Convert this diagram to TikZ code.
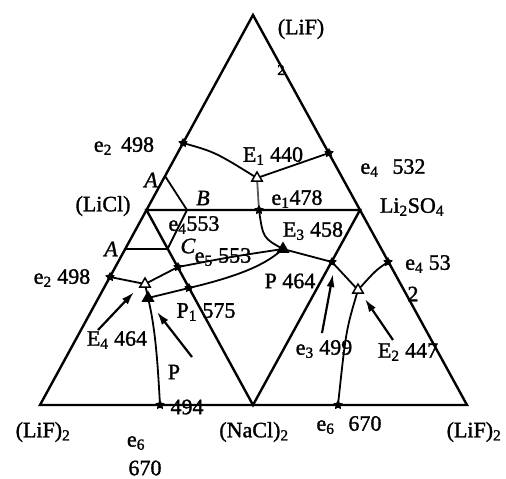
\documentclass[tikz,border=0pt]{standalone}
\usepackage{fontspec}
\setmainfont{Liberation Serif}[FakeBold=1.4]
\usetikzlibrary{arrows.meta,shapes.geometric}

\begin{document}
\begin{tikzpicture}[
  x=1pt, y=-1pt,
  side/.style={line width=2.4pt, line join=miter},
  bnd/.style={line width=1.8pt},
  arr/.style={-{Latex[length=13pt,width=8pt]}, line width=2.2pt},
  lbl/.style={font=\fontsize{22}{24}\selectfont, inner sep=0pt},
  pnt/.style={star, star points=5, star point ratio=1.8, fill, inner sep=0pt, minimum size=10pt},
  opn/.style={regular polygon, regular polygon sides=3, draw, line width=1.5pt,
              fill=white, inner sep=0pt, minimum size=12pt},
  shut/.style={opn, fill=black}
]
\useasboundingbox (0,0) rectangle (506,479);
% corners of the square
\coordinate (T)  at (253,15);
\coordinate (L)  at (40,405);
\coordinate (R)  at (467,405);
\coordinate (N)  at (253,405);
\coordinate (Cl) at (146.5,210);
\coordinate (S)  at (360,210);
\coordinate (Au) at (165,176);
\coordinate (B)  at (187,210);
\coordinate (C)  at (167.5,249);
\coordinate (Al) at (125,249);
% invariant points
\coordinate (e2u) at (183,143);
\coordinate (E1)  at (257,178);
\coordinate (e4u) at (329,153);
\coordinate (e1)  at (259,210);
\coordinate (E3)  at (283,249);
\coordinate (P)   at (332,262);
\coordinate (E2)  at (358,290);
\coordinate (e4l) at (388,262);
\coordinate (e6r) at (338,405);
\coordinate (e2l) at (110,277);
\coordinate (E4)  at (145,284);
\coordinate (e5)  at (178,267);
\coordinate (Pf)  at (148,298);
\coordinate (p1)  at (189,288);
\coordinate (e6l) at (160,405);

\draw[side] (T) -- (R) -- (L) -- cycle;
\draw[side] (Cl) -- (S) -- (N) -- cycle;
\draw[bnd] (Au) -- (B) -- (C) -- (Al);

\draw[bnd] (e2u) .. controls (215,152) .. (E1);
\draw[bnd] (E1) -- (e4u);
\draw[bnd, gray!70!black] (E1) -- (e1);
\draw[bnd] (e1) .. controls (263,238) .. (E3);
\draw[bnd] (e5) .. controls (230,257) .. (E3);
\draw[bnd] (e2l) .. controls (127,281) .. (E4);
\draw[bnd] (E4) -- (e5);
\draw[bnd] (E4) -- (Pf);
\draw[bnd] (Pf) -- (p1);
\draw[bnd] (p1) .. controls (248,274) and (268,262) .. (E3);
\draw[bnd] (Pf) .. controls (156,330) and (158,370) .. (e6l);
\draw[bnd] (E3) -- (P);
\draw[bnd] (P) -- (E2);
\draw[bnd] (E2) .. controls (376,270) .. (e4l);
\draw[bnd] (E2) .. controls (346,330) .. (e6r);

\foreach \p in {e2u,e4u,e1,P,e4l,e6r,e2l,e5,p1,e6l}
  \node[pnt] at (\p) {};
\node[opn]  (mE1) at (E1) {};
\node[opn]  (mE4) at (E4) {};
\node[opn]  (mE2) at (E2) {};
\node[shut] (mE3) at (E3) {};
\node[shut] (mPf) at (Pf) {};

% arrows to the points
\coordinate (tE4) at (98,330);
\coordinate (hE4) at (134,292);
\coordinate (tP)  at (192,357);
\coordinate (hP)  at (157,312);
\coordinate (te3) at (322,333);
\coordinate (he3) at (333,274);
\coordinate (tE2) at (393,340);
\coordinate (hE2) at (365,299);
\draw[arr] (tE4) -- (hE4);
\draw[arr] (tP) -- (hP);
\draw[arr] (te3) -- (he3);
\draw[arr] (tE2) -- (hE2);

\node[lbl] (lLiFt)  at (301,29)  {(LiF)};
\node[lbl, font=\fontsize{15}{17}\selectfont] (lLiFt2) at (281,70) {2};
\node[lbl] (le2u)   at (124,146) {e\textsubscript{2}\, 498};
\node[lbl] (lAu)    at (151,180) {\textit{A}};
\node[lbl] (lLiCl)  at (103,206) {(LiCl)};
\node[lbl] (lB)     at (203,198) {\textit{B}};
\node[lbl] (lE1)    at (273,156) {E\textsubscript{1} 440};
\node[lbl] (le4u)   at (393,168) {e\textsubscript{4}\hspace{14pt}532};
\node[lbl] (le1)    at (297,199) {e\textsubscript{1}478};
\node[lbl] (lS)     at (412,207) {Li\textsubscript{2}SO\textsubscript{4}};
\node[lbl] (le4m)   at (194,225) {e\textsubscript{4}553};
\node[lbl] (lC)     at (188,246) {\textit{C}};
\node[lbl] (le5)    at (223,257) {e\textsubscript{5} 553};
\node[lbl] (lAl)    at (111,249) {\textit{A}};
\node[lbl] (le2l)   at (62,278)  {e\textsubscript{2} 498};
\node[lbl] (lE3)    at (313,231) {E\textsubscript{3} 458};
\node[lbl] (lP)     at (290,281) {P 464};
\node[lbl] (le4l)   at (428,264) {e\textsubscript{4} 53};
\node[lbl] (le4l2)  at (413,294) {2};
\node[lbl] (lp1)    at (206,312) {P\textsubscript{1} 575};
\node[lbl] (lE4)    at (117,340) {E\textsubscript{4} 464};
\node[lbl] (lPf)    at (174,372) {P};
\node[lbl] (le6l)   at (187,407) {494};
\node[lbl] (lLiFl)  at (43,432)  {(LiF)\textsubscript{2}};
\node[lbl] (le6b)   at (136,443) {e\textsubscript{6}};
\node[lbl] (le6b2)  at (145,468) {670};
\node[lbl] (lNaCl)  at (254,432) {(NaCl)\textsubscript{2}};
\node[lbl] (le6r)   at (349,425) {e\textsubscript{6}\hspace{14pt}670};
\node[lbl] (lLiFr)  at (474,432) {(LiF)\textsubscript{2}};
\node[lbl] (le3)    at (324,349) {e\textsubscript{3} 499};
\node[lbl] (lE2)    at (408,352) {E\textsubscript{2} 447};
\end{tikzpicture}
\end{document}
